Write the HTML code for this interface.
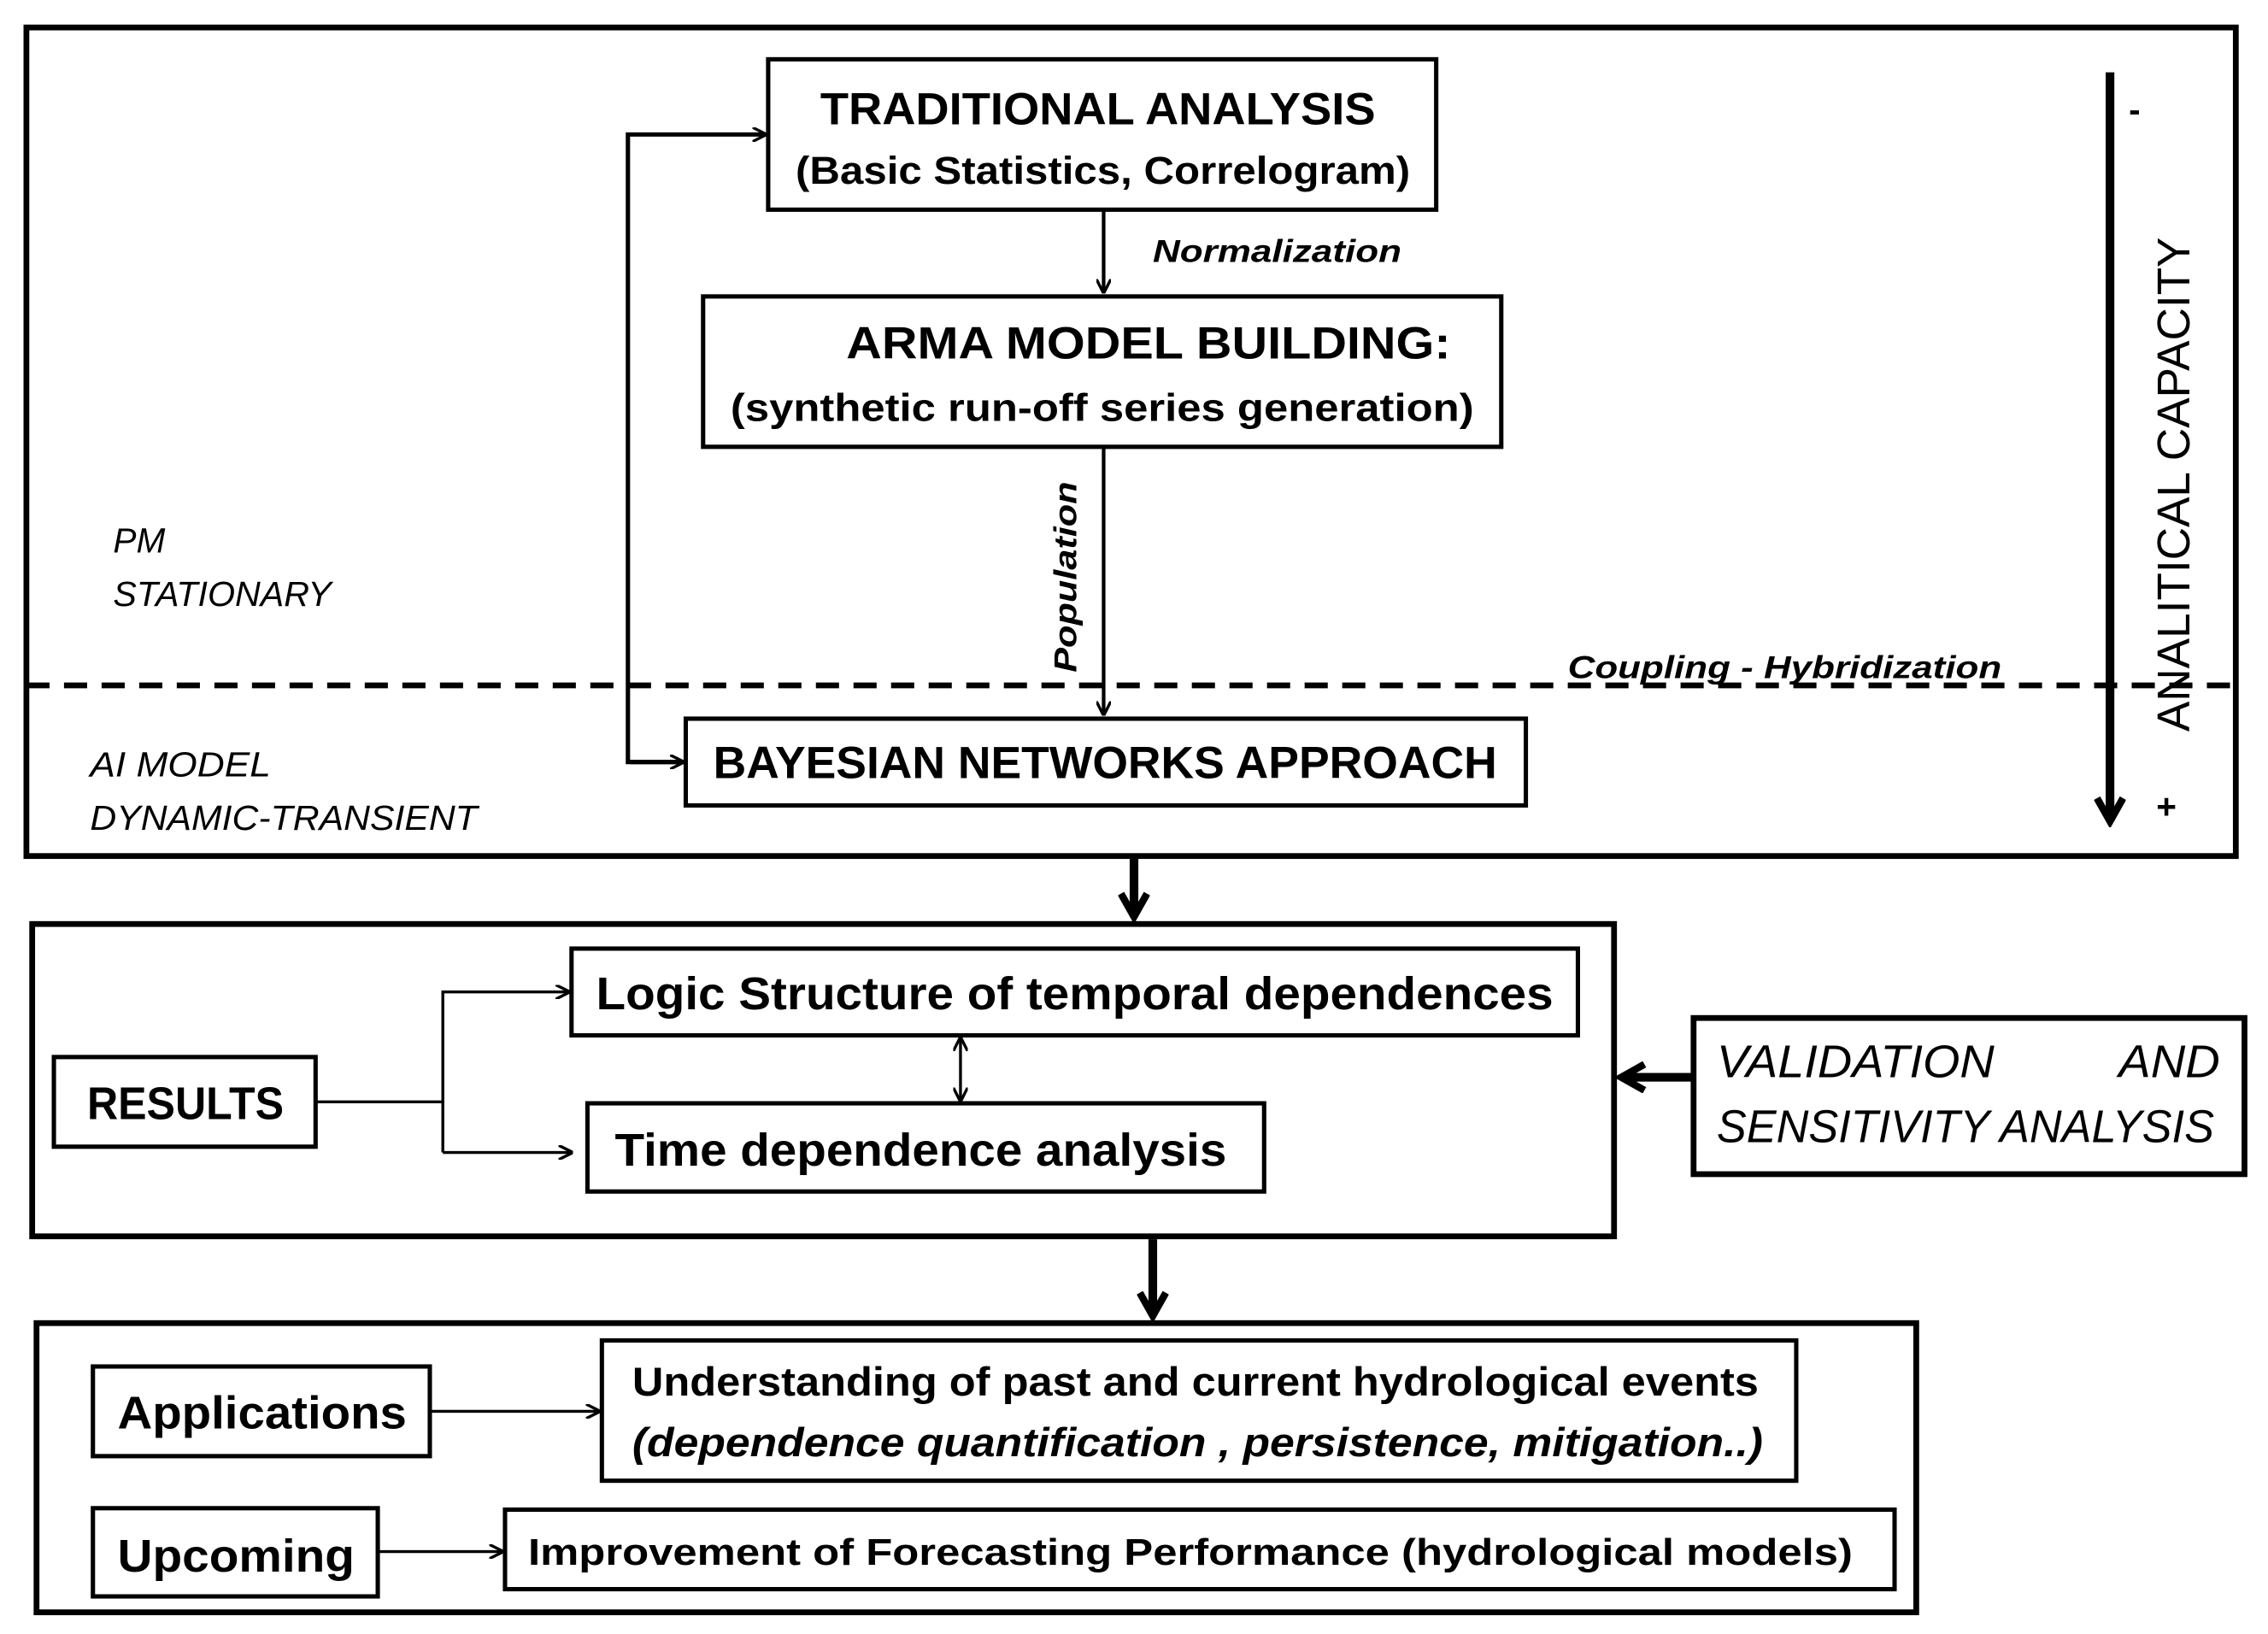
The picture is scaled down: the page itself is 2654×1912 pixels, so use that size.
<!DOCTYPE html>
<html><head><meta charset="utf-8"><style>
html,body{margin:0;padding:0;background:#fff;width:2654px;height:1912px;overflow:hidden}
svg{display:block}
text{font-family:"Liberation Sans",sans-serif;fill:#000}
.b{font-weight:bold}
.i{font-style:italic}
</style></head><body>
<svg width="2654" height="1912" viewBox="0 0 1568 1130" xmlns="http://www.w3.org/2000/svg">
<defs>
<marker id="a" markerWidth="10" markerHeight="10" refX="9" refY="5" orient="auto" markerUnits="userSpaceOnUse"><path d="M0,0 L10,5 L0,10" fill="none" stroke="#000" stroke-width="2"/></marker>
<marker id="as" markerWidth="10" markerHeight="10" refX="9" refY="5" orient="auto-start-reverse" markerUnits="userSpaceOnUse"><path d="M0,0 L10,5 L0,10" fill="none" stroke="#000" stroke-width="2"/></marker>
<marker id="t" markerWidth="22" markerHeight="22" refX="18" refY="11" orient="auto" markerUnits="userSpaceOnUse"><path d="M2,2 L18,11 L2,20" fill="none" stroke="#000" stroke-width="5"/></marker>
</defs>
<g fill="none" stroke="#000">
<rect x="18" y="19" width="1528" height="573" stroke-width="4"/>
<rect x="531" y="41" width="462" height="104" stroke-width="3"/>
<rect x="486" y="205" width="552" height="104" stroke-width="3"/>
<rect x="474" y="497" width="581" height="60" stroke-width="3"/>
<line x1="18" y1="474" x2="1546" y2="474" stroke-width="4" stroke-dasharray="16,10"/>
<line x1="763" y1="145" x2="763" y2="202" stroke-width="2.5" marker-end="url(#a)"/>
<line x1="763" y1="309" x2="763" y2="494" stroke-width="2.5" marker-end="url(#a)"/>
<polyline points="474,527 434,527 434,93 529,93" stroke-width="3" marker-end="url(#a)"/>
<line x1="436" y1="527" x2="472" y2="527" stroke-width="3" marker-end="url(#a)"/>
<line x1="1459" y1="50" x2="1459" y2="568" stroke-width="6" marker-end="url(#t)"/>
<line x1="784" y1="592" x2="784" y2="634" stroke-width="6" marker-end="url(#t)"/>
<rect x="22" y="639" width="1094" height="216" stroke-width="4"/>
<rect x="395" y="656" width="696" height="60" stroke-width="3"/>
<rect x="406" y="763" width="468" height="61" stroke-width="3"/>
<rect x="37" y="731" width="181" height="62" stroke-width="3"/>
<polyline points="218,762 306,762" stroke-width="2"/>
<polyline points="306,797 306,686 393,686" stroke-width="2" marker-end="url(#a)"/>
<line x1="306" y1="797" x2="395" y2="797" stroke-width="2" marker-end="url(#a)"/>
<line x1="664" y1="718" x2="664" y2="761" stroke-width="2" marker-end="url(#as)" marker-start="url(#as)"/>
<rect x="1171" y="704" width="381" height="108" stroke-width="4"/>
<line x1="1171" y1="745" x2="1121" y2="745" stroke-width="6" marker-end="url(#t)"/>
<line x1="797" y1="857" x2="797" y2="910" stroke-width="6" marker-end="url(#t)"/>
<rect x="25" y="915" width="1300" height="200" stroke-width="4"/>
<rect x="64" y="945" width="233" height="62" stroke-width="3"/>
<rect x="416" y="927" width="826" height="97" stroke-width="3"/>
<rect x="64" y="1043" width="197" height="61" stroke-width="3"/>
<rect x="349" y="1044" width="961" height="55" stroke-width="3"/>
<line x1="297" y1="976" x2="414" y2="976" stroke-width="2" marker-end="url(#a)"/>
<line x1="261" y1="1073" x2="347" y2="1073" stroke-width="2" marker-end="url(#a)"/>
</g>
<text class="b" x="567" y="86" font-size="31" textLength="384" lengthAdjust="spacingAndGlyphs">TRADITIONAL ANALYSIS</text>
<text class="b" x="550" y="127" font-size="27" textLength="425" lengthAdjust="spacingAndGlyphs">(Basic Statistics, Correlogram)</text>
<text class="b i" x="797" y="181" font-size="22" textLength="172" lengthAdjust="spacingAndGlyphs">Normalization</text>
<text class="b" x="585" y="248" font-size="31" textLength="418" lengthAdjust="spacingAndGlyphs">ARMA  MODEL BUILDING:</text>
<text class="b" x="505" y="291" font-size="27" textLength="514" lengthAdjust="spacingAndGlyphs">(synthetic run-off series generation)</text>
<text class="b i" transform="translate(744,465) rotate(-90)" font-size="22" textLength="132" lengthAdjust="spacingAndGlyphs">Population</text>
<text class="b i" x="1084" y="469" font-size="22" textLength="300" lengthAdjust="spacingAndGlyphs">Coupling - Hybridization</text>
<text class="b" x="493" y="538" font-size="31" textLength="542" lengthAdjust="spacingAndGlyphs">BAYESIAN NETWORKS APPROACH</text>
<text class="i" x="78" y="382" font-size="24">PM</text>
<text class="i" x="78" y="419" font-size="24" textLength="151" lengthAdjust="spacingAndGlyphs">STATIONARY</text>
<text class="i" x="62" y="537" font-size="24" textLength="125" lengthAdjust="spacingAndGlyphs">AI MODEL</text>
<text class="i" x="62" y="574" font-size="24" textLength="268" lengthAdjust="spacingAndGlyphs">DYNAMIC-TRANSIENT</text>
<text class="b" x="1472" y="84" font-size="24">-</text>
<text class="b" x="1491" y="566" font-size="24">+</text>
<text transform="translate(1514,506) rotate(-90)" font-size="32" textLength="342" lengthAdjust="spacingAndGlyphs">ANALITICAL CAPACITY</text>
<text class="b" x="412" y="698" font-size="32" textLength="662" lengthAdjust="spacingAndGlyphs">Logic Structure of temporal dependences</text>
<text class="b" x="425" y="806" font-size="32" textLength="423" lengthAdjust="spacingAndGlyphs">Time dependence analysis</text>
<text class="b" x="60" y="774" font-size="32" textLength="136" lengthAdjust="spacingAndGlyphs">RESULTS</text>
<text class="i" x="1187" y="745" font-size="32" textLength="192" lengthAdjust="spacingAndGlyphs">VALIDATION</text>
<text class="i" x="1465" y="745" font-size="32" textLength="70" lengthAdjust="spacingAndGlyphs">AND</text>
<text class="i" x="1187" y="790" font-size="32" textLength="344" lengthAdjust="spacingAndGlyphs">SENSITIVITY ANALYSIS</text>
<text class="b" x="81" y="988" font-size="32" textLength="200" lengthAdjust="spacingAndGlyphs">Applications</text>
<text class="b" x="437" y="965" font-size="28" textLength="779" lengthAdjust="spacingAndGlyphs">Understanding of past and current hydrological events</text>
<text class="b i" x="437" y="1007" font-size="28" textLength="782" lengthAdjust="spacingAndGlyphs">(dependence quantification , persistence, mitigation..)</text>
<text class="b" x="81" y="1087" font-size="32" textLength="164" lengthAdjust="spacingAndGlyphs">Upcoming</text>
<text class="b" x="365" y="1082" font-size="26" textLength="916" lengthAdjust="spacingAndGlyphs">Improvement of Forecasting Performance (hydrological models)</text>
</svg>
</body></html>
